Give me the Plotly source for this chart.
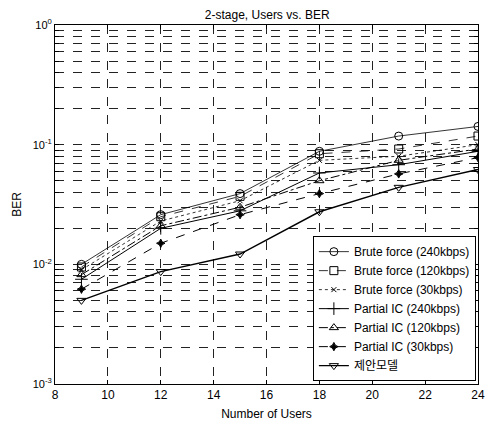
import plotly.graph_objects as go

users = [9, 12, 15, 18, 21, 24]
bf_240 = [0.0100, 0.026, 0.039, 0.088, 0.118, 0.142]
bf_120 = [0.0095, 0.025, 0.037, 0.084, 0.092, 0.118]
bf_30 = [0.0090, 0.023, 0.034, 0.074, 0.080, 0.100]
pic_240 = [0.0075, 0.020, 0.028, 0.058, 0.068, 0.088]
pic_120 = [0.0082, 0.021, 0.030, 0.050, 0.074, 0.092]
pic_30 = [0.0062, 0.015, 0.026, 0.039, 0.057, 0.078]
proposed = [0.0050, 0.0087, 0.0122, 0.0275, 0.044, 0.062]

names = ["Brute force (240kbps)", "Brute force (120kbps)", "Brute force (30kbps)",
         "Partial IC (240kbps)", "Partial IC (120kbps)", "Partial IC (30kbps)", "제안모델"]
series = [bf_240, bf_120, bf_30, pic_240, pic_120, pic_30, proposed]
symbols = ["circle-open", "square-open", "x-thin-open", "cross-thin-open",
           "triangle-up-open", "star-diamond", "triangle-down-open"]
sizes = [8, 8, 5, 9, 8, 6, 8]
dashes = ["solid", "dash", "dot", "solid", "dashdot", "dash", "solid"]
widths = [0.8, 0.8, 0.8, 1.0, 1.0, 1.0, 1.4]

fig = go.Figure()
for n, s, sym, sz, d, w in zip(names, series, symbols, sizes, dashes, widths):
    fig.add_trace(go.Scatter(
        x=users, y=s, name=n, mode="lines+markers",
        line=dict(color="black", width=w, dash=d),
        marker=dict(symbol=sym, size=sz, color="black", line=dict(color="black", width=1)),
    ))

yt, ytt = [], []
for e in [-3, -2, -1]:
    for k in range(1, 10):
        yt.append(k * 10 ** e)
        ytt.append(f"10<sup>{e}</sup>" if k == 1 else "")
yt.append(1)
ytt.append("10<sup>0</sup>")

font = "Liberation Sans, Arial, sans-serif"
fig.update_layout(
    width=493, height=427,
    margin=dict(l=55, r=8, t=25, b=39),
    paper_bgcolor="white", plot_bgcolor="white",
    font=dict(family=font, size=11, color="black"),
    title=dict(text="2-stage, Users vs. BER", x=0.542, xanchor="center", y=1 - 15 / 427,
               yanchor="middle", font=dict(size=12)),
    showlegend=True,
    legend=dict(x=0.995, y=0.008, xanchor="right", yanchor="bottom",
                bgcolor="white", bordercolor="black", borderwidth=1,
                font=dict(family=font + ", Noto Sans CJK KR", size=12),
                tracegroupgap=0, itemwidth=30),
)
fig.update_xaxes(
    range=[8, 24], tickvals=list(range(8, 25, 2)),
    title=dict(text="Number of Users", standoff=8, font=dict(size=12)),
    showline=True, linecolor="black", linewidth=1, mirror="allticks",
    ticks="inside", ticklen=4, tickcolor="black", ticklabeloverflow="allow",
    tickfont=dict(size=12),
    showgrid=True, gridcolor="#222", griddash="dash", gridwidth=1, zeroline=False,
)
fig.update_yaxes(
    type="log", range=[-3, 0], tickvals=yt, ticktext=ytt,
    title=dict(text="BER", standoff=8, font=dict(size=12)),
    showline=True, linecolor="black", linewidth=1, mirror="allticks",
    ticks="inside", ticklen=4, tickcolor="black", ticklabeloverflow="allow",
    tickfont=dict(size=11),
    showgrid=True, gridcolor="#222", griddash="dash", gridwidth=1, zeroline=False,
)
fig.write_html("out.html", config={"displayModeBar": False},
               post_script="document.body.style.margin='0';document.body.style.padding='0';")
